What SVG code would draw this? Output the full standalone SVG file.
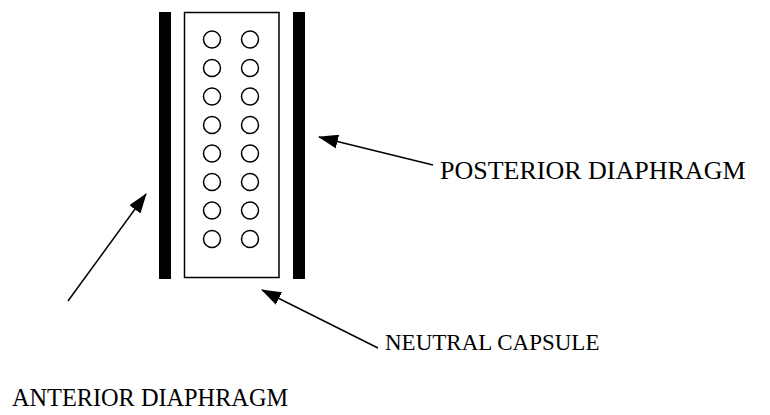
<svg xmlns="http://www.w3.org/2000/svg" width="770" height="415" viewBox="0 0 770 415">
<style>
.bar{fill:#000}
.cap{fill:#fff;stroke:#000;stroke-width:1.5}
.hole{fill:#fff;stroke:#000;stroke-width:1.5}
.lbl{font-family:"Liberation Serif","Times New Roman",serif;fill:#000}
.arr{stroke:#000;stroke-width:1.5;fill:none}
</style>
<defs>
<marker id="ahL" viewBox="0 0 20 14" refX="19" refY="7" markerWidth="20" markerHeight="14" markerUnits="userSpaceOnUse" orient="auto">
<path d="M0,0 L20,7 L0,14 Z" fill="#000"/>
</marker>
</defs>
<g id="anterior-diaphragm"><rect class="bar" x="159" y="12" width="12" height="267"/></g>
<g id="neutral-capsule">
<rect class="cap" x="184.5" y="12.5" width="94.5" height="265"/>
<g id="holes">
<circle class="hole" cx="212" cy="39.5" r="8.5"/><circle class="hole" cx="250" cy="39.5" r="8.5"/>
<circle class="hole" cx="212" cy="68" r="8.5"/><circle class="hole" cx="250" cy="68" r="8.5"/>
<circle class="hole" cx="212" cy="96.5" r="8.5"/><circle class="hole" cx="250" cy="96.5" r="8.5"/>
<circle class="hole" cx="212" cy="125" r="8.5"/><circle class="hole" cx="250" cy="125" r="8.5"/>
<circle class="hole" cx="212" cy="153.5" r="8.5"/><circle class="hole" cx="250" cy="153.5" r="8.5"/>
<circle class="hole" cx="212" cy="182" r="8.5"/><circle class="hole" cx="250" cy="182" r="8.5"/>
<circle class="hole" cx="212" cy="210.5" r="8.5"/><circle class="hole" cx="250" cy="210.5" r="8.5"/>
<circle class="hole" cx="212" cy="239" r="8.5"/><circle class="hole" cx="250" cy="239" r="8.5"/>
</g>
</g>
<g id="posterior-diaphragm"><rect class="bar" x="293" y="12" width="12" height="267"/></g>
<g id="connectors">
<line class="arr" x1="433" y1="165" x2="319" y2="137" marker-end="url(#ahL)"/>
<line class="arr" x1="378" y1="348" x2="262" y2="290" marker-end="url(#ahL)"/>
<line class="arr" x1="68" y1="301" x2="146" y2="194" marker-end="url(#ahL)"/>
</g>
<g id="labels">
<text class="lbl" x="440" y="179" font-size="26">POSTERIOR DIAPHRAGM</text>
<text class="lbl" x="385" y="350" font-size="23">NEUTRAL CAPSULE</text>
<text class="lbl" x="12" y="406" font-size="24.3">ANTERIOR DIAPHRAGM</text>
</g>
</svg>
